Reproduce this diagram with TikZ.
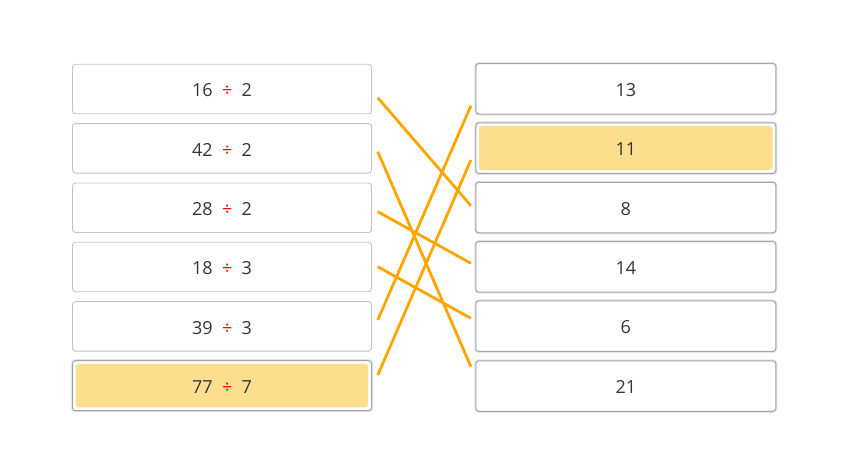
\documentclass[tikz,border=0pt]{standalone}
\usepackage{fontspec}
\setmainfont{Open Sans}
\usetikzlibrary{calc}
\definecolor{txt}{HTML}{363636}
\definecolor{lborder}{HTML}{C4C4C4}
\definecolor{rborder}{HTML}{A4A4A4}
\definecolor{shade}{HTML}{E4E4E4}
\definecolor{hilite}{HTML}{FDDD8E}
\definecolor{link}{HTML}{FFA500}
\newcommand{\dv}[2]{#1\hspace{9.3pt}{\color{red}÷}\hspace{9.3pt}#2}
\tikzset{
  base/.style={rectangle, rounded corners=3pt, minimum width=299pt, text=txt,
    font=\fontsize{18}{21}\selectfont, inner sep=0pt, text height=15.4pt, text depth=0pt},
  lbox/.style={base, draw=lborder, line width=0.9pt, minimum height=49.5pt, fill=white},
  rbox/.style={base, draw=rborder, line width=1pt, minimum width=300pt, minimum height=50.5pt, fill=white,
    preaction={draw=shade, line width=3pt}},
  hbox/.style={path picture={\fill[hilite] ($(path picture bounding box.south west)+(3.3,-3.3)$) rectangle ($(path picture bounding box.north east)+(-3.3,3.3)$);}},
  linkline/.style={draw=link, line width=2.8pt}
}
\begin{document}
\begin{tikzpicture}[x=1pt,y=-1pt]
\useasboundingbox (0,0) rectangle (844,475);
\fill[white] (0,0) rectangle (844,475);
% left boxes
\node[lbox] (l1) at (222,89.0) {\dv{16}{2}};
\node[lbox] (l2) at (222,148.3) {\dv{42}{2}};
\node[lbox] (l3) at (222,207.7) {\dv{28}{2}};
\node[lbox] (l4) at (222,267.0) {\dv{18}{3}};
\node[lbox] (l5) at (222,326.4) {\dv{39}{3}};
\node[rbox,minimum width=299pt,minimum height=50pt,hbox] (l6) at (222,385.7) {\dv{77}{7}};
% right boxes
\node[rbox] (r1) at (625.8,88.8) {13};
\node[rbox,hbox] (r2) at (625.8,148.1) {11};
\node[rbox] (r3) at (625.8,207.5) {8};
\node[rbox] (r4) at (625.8,266.8) {14};
\node[rbox] (r5) at (625.8,326.2) {6};
\node[rbox] (r6) at (625.8,386.0) {21};
% links
\draw[linkline] ([xshift=5.8pt,yshift=-8.7pt]l1.east) -- ([xshift=-4.4pt,yshift=1.8pt]r3.west);
\draw[linkline] ([xshift=5.8pt,yshift=-3.4pt]l2.east) -- ([xshift=-4.4pt,yshift=19.3pt]r6.west);
\draw[linkline] ([xshift=5.8pt,yshift=-4pt]l3.east) -- ([xshift=-4.4pt,yshift=3.5pt]r4.west);
\draw[linkline] ([xshift=5.8pt,yshift=0.3pt]l4.east) -- ([xshift=-4.4pt,yshift=7.9pt]r5.west);
\draw[linkline] ([xshift=5.8pt,yshift=6.4pt]l5.east) -- ([xshift=-4.4pt,yshift=-16.9pt]r1.west);
\draw[linkline] ([xshift=5.8pt,yshift=10.7pt]l6.east) -- ([xshift=-4.4pt,yshift=-11.9pt]r2.west);
\end{tikzpicture}
\end{document}
